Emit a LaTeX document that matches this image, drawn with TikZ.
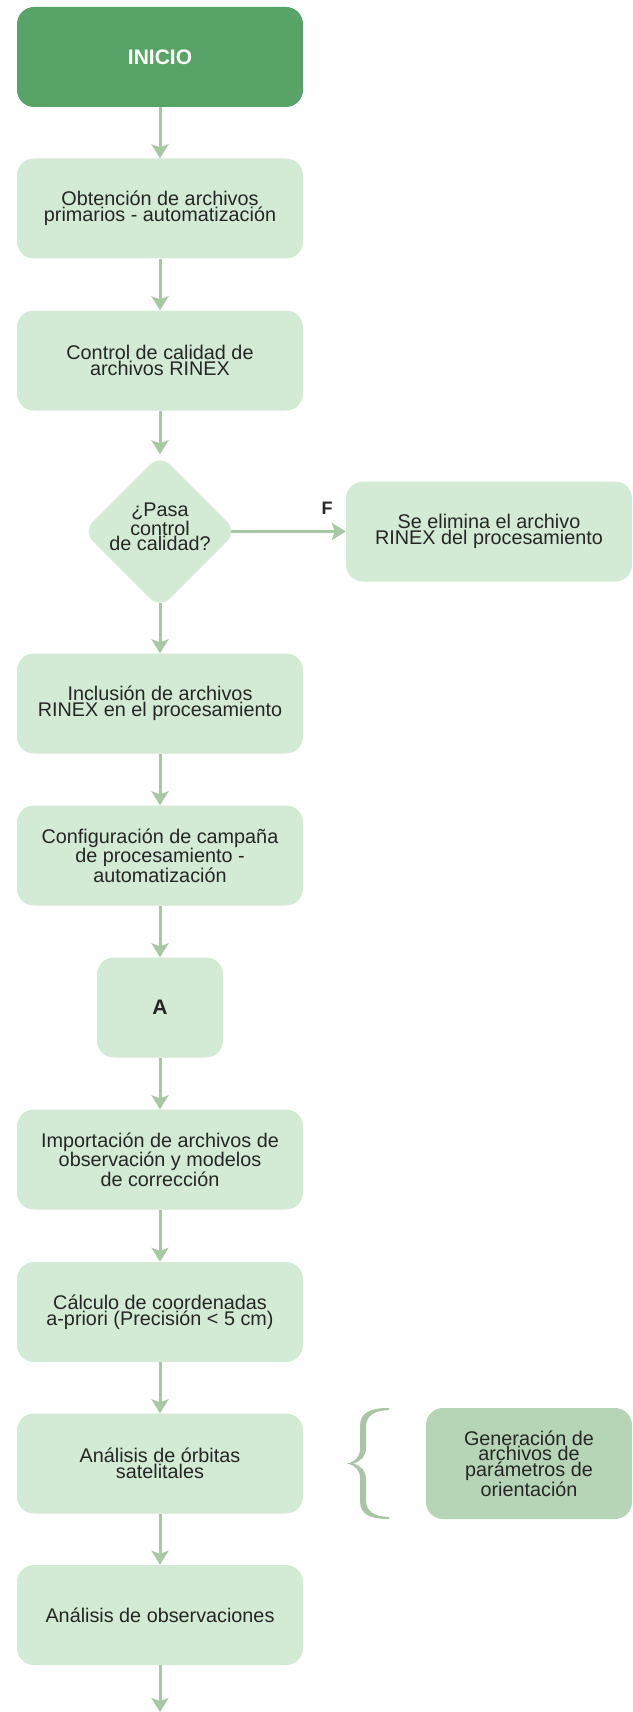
\documentclass[tikz,border=0pt]{standalone}
\usepackage{fontspec}
\setmainfont{Liberation Sans}
\usetikzlibrary{arrows.meta,shapes.geometric}
\definecolor{darkg}{RGB}{88,164,102}
\definecolor{lightg}{RGB}{211,234,213}
\definecolor{midg}{RGB}{181,213,182}
\definecolor{arrowg}{RGB}{168,200,164}
\definecolor{braceg}{RGB}{168,198,164}
\definecolor{txt}{RGB}{38,38,38}
\begin{document}
\begin{tikzpicture}[x=1pt,y=-1pt,
  box/.style={rectangle, rounded corners=17pt, fill=lightg, minimum width=286pt, minimum height=100pt, align=center, text=txt, font=\fontsize{19.8}{15.8}\selectfont, inner sep=0pt},
  startbox/.style={box, fill=darkg, text=white, font=\fontsize{21}{24}\selectfont\bfseries},
  conn/.style={draw=arrowg, line width=3pt, -{Stealth[length=14pt,width=17pt,inset=3pt]}},
  ]
\useasboundingbox (0,0) rectangle (632,1712);
\node[startbox] (inicio) at (160,57) {INICIO};
\node[box] (b1) at (160,208.5) {Obtención de archivos\\primarios - automatización};
\node[box] (b2) at (160,360.5) {Control de calidad de\\archivos RINEX};
\node[diamond, fill=lightg, rounded corners=14pt, minimum width=154pt, minimum height=154pt, inner sep=0pt] (dia) at (160,531.5) {};
\node[align=center, text=txt, font=\fontsize{19.8}{15.8}\selectfont, inner sep=0pt] (diatext) at (160,527) {¿Pasa\\control\\de calidad?};
\node[box] (elim) at (489,531.5) {Se elimina el archivo\\RINEX del procesamiento};
\node[text=txt, font=\fontsize{18}{20}\selectfont\bfseries, inner sep=0pt] (flabel) at (327,508) {F};
\node[box] (b3) at (160,703.5) {Inclusión de archivos\\RINEX en el procesamiento};
\node[box] (b4) at (160,855.5) {Configuración de campaña\\de procesamiento -\\automatización};
\node[box, minimum width=126pt, font=\fontsize{21}{24}\selectfont\bfseries] (nA) at (160,1007.5) {A};
\node[box] (b5) at (160,1159.5) {Importación de archivos de\\observación y modelos\\de corrección};
\node[box] (b6) at (160,1312) {Cálculo de coordenadas\\a-priori (Precisión < 5 cm)};
\node[box] (b7) at (160,1463.5) {Análisis de órbitas\\satelitales};
\node[box, fill=midg, minimum width=206pt, minimum height=111pt] (gen) at (529,1463.5) {Generación de\\archivos de\\parámetros de\\orientación};
\node[box] (b8) at (160,1615) {Análisis de observaciones};
\coordinate (endpt) at (160,1712);

\draw[conn] (inicio.south) -- (b1.north);
\draw[conn] (b1.south) -- (b2.north);
\draw[conn] (b2.south) -- (dia.north);
\draw[conn] ([xshift=-6pt]dia.east) -- (elim.west);
\draw[conn] ([yshift=6pt]dia.south) -- (b3.north);
\draw[conn] (b3.south) -- (b4.north);
\draw[conn] (b4.south) -- (nA.north);
\draw[conn] (nA.south) -- (b5.north);
\draw[conn] (b5.south) -- (b6.north);
\draw[conn] (b6.south) -- (b7.north);
\draw[conn] (b7.south) -- (b8.north);
\draw[conn] (b8.south) -- (endpt);

% brace
\fill[braceg] (389,1408) .. controls (371,1408) and (360,1412) .. (360,1426)
  -- (360,1449) .. controls (360,1457) and (355,1462) .. (347,1463.5)
  .. controls (355,1465) and (360,1470) .. (360,1478)
  -- (360,1501) .. controls (360,1515) and (371,1519) .. (389,1519)
  -- (389,1517) .. controls (375,1516.5) and (366,1512) .. (366,1500)
  -- (366,1479) .. controls (366,1471) and (361,1465.5) .. (353,1463.5)
  .. controls (361,1461.5) and (366,1456) .. (366,1448)
  -- (366,1427) .. controls (366,1415) and (375,1410.5) .. (389,1410) -- cycle;
\end{tikzpicture}
\end{document}
